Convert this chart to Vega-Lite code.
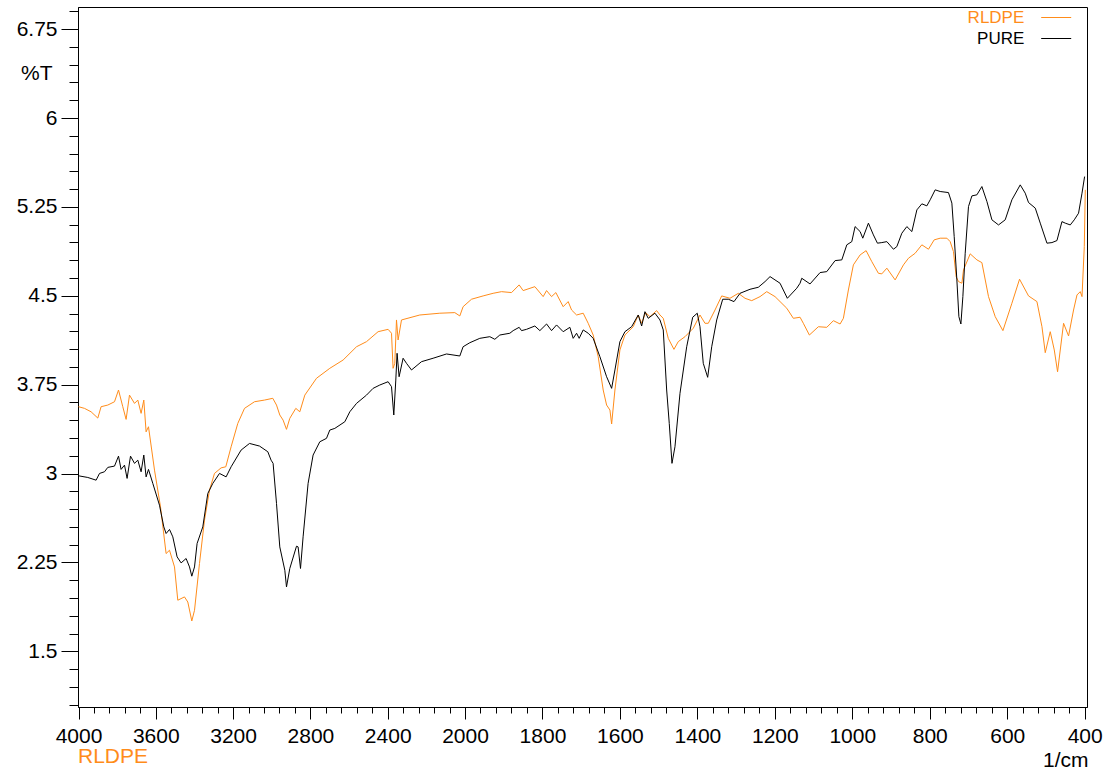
{
  "$schema": "https://vega.github.io/schema/vega-lite/v6.json",
  "width": 1009,
  "height": 700,
  "autosize": "none",
  "padding": {"left": 78, "top": 7, "right": 27, "bottom": 64},
  "background": "white",
  "config": {"font": "Liberation Sans", "view": {"stroke": "black", "strokeWidth": 1}},
  "title": {"text": "RLDPE", "orient": "bottom", "anchor": "start", "frame": "group", "color": "#ff8c1a", "fontSize": 21, "fontWeight": "normal", "offset": -24},
  "datasets": {
    "spectra": [
      {"s":"RLDPE","wn":4000,"t":3.564},{"s":"RLDPE","wn":3969,"t":3.55},{"s":"RLDPE","wn":3934.8,"t":3.521},{"s":"RLDPE","wn":3900.1,"t":3.468},{"s":"RLDPE","wn":3883.1,"t":3.564},{"s":"RLDPE","wn":3848.4,"t":3.578},{"s":"RLDPE","wn":3813.7,"t":3.606},{"s":"RLDPE","wn":3793,"t":3.705},{"s":"RLDPE","wn":3770.8,"t":3.564},{"s":"RLDPE","wn":3753.7,"t":3.457},{"s":"RLDPE","wn":3736.1,"t":3.662},{"s":"RLDPE","wn":3710.2,"t":3.592},{"s":"RLDPE","wn":3693.1,"t":3.62},{"s":"RLDPE","wn":3676.1,"t":3.508},{"s":"RLDPE","wn":3662.1,"t":3.62},{"s":"RLDPE","wn":3650.2,"t":3.352},{"s":"RLDPE","wn":3637.8,"t":3.395},{"s":"RLDPE","wn":3606.7,"t":3.029},{"s":"RLDPE","wn":3575.7,"t":2.719},{"s":"RLDPE","wn":3546.7,"t":2.325},{"s":"RLDPE","wn":3529.1,"t":2.353},{"s":"RLDPE","wn":3503.2,"t":2.212},{"s":"RLDPE","wn":3486.2,"t":1.931},{"s":"RLDPE","wn":3451.5,"t":1.959},{"s":"RLDPE","wn":3434.4,"t":1.916},{"s":"RLDPE","wn":3413.7,"t":1.756},{"s":"RLDPE","wn":3399.7,"t":1.846},{"s":"RLDPE","wn":3373.9,"t":2.241},{"s":"RLDPE","wn":3348,"t":2.607},{"s":"RLDPE","wn":3322.1,"t":2.86},{"s":"RLDPE","wn":3296.3,"t":3.001},{"s":"RLDPE","wn":3262.1,"t":3.048},{"s":"RLDPE","wn":3237.8,"t":3.057},{"s":"RLDPE","wn":3210.3,"t":3.226},{"s":"RLDPE","wn":3175.7,"t":3.423},{"s":"RLDPE","wn":3141,"t":3.55},{"s":"RLDPE","wn":3089.3,"t":3.606},{"s":"RLDPE","wn":3037.5,"t":3.62},{"s":"RLDPE","wn":2994.6,"t":3.635},{"s":"RLDPE","wn":2975.4,"t":3.578},{"s":"RLDPE","wn":2958.4,"t":3.494},{"s":"RLDPE","wn":2941.3,"t":3.451},{"s":"RLDPE","wn":2923.7,"t":3.373},{"s":"RLDPE","wn":2906.6,"t":3.466},{"s":"RLDPE","wn":2875.5,"t":3.55},{"s":"RLDPE","wn":2854.8,"t":3.521},{"s":"RLDPE","wn":2828.9,"t":3.662},{"s":"RLDPE","wn":2768.4,"t":3.804},{"s":"RLDPE","wn":2699.6,"t":3.888},{"s":"RLDPE","wn":2630.8,"t":3.958},{"s":"RLDPE","wn":2561.4,"t":4.07},{"s":"RLDPE","wn":2509.7,"t":4.113},{"s":"RLDPE","wn":2449.7,"t":4.197},{"s":"RLDPE","wn":2397.9,"t":4.217},{"s":"RLDPE","wn":2380.3,"t":4.184},{"s":"RLDPE","wn":2372.1,"t":3.888},{"s":"RLDPE","wn":2363.3,"t":3.93},{"s":"RLDPE","wn":2354.5,"t":4.296},{"s":"RLDPE","wn":2346.2,"t":4.127},{"s":"RLDPE","wn":2328.6,"t":4.296},{"s":"RLDPE","wn":2233.9,"t":4.338},{"s":"RLDPE","wn":2130.4,"t":4.353},{"s":"RLDPE","wn":2052.8,"t":4.358},{"s":"RLDPE","wn":2026.9,"t":4.33},{"s":"RLDPE","wn":2009.8,"t":4.408},{"s":"RLDPE","wn":1983.2,"t":4.471},{"s":"RLDPE","wn":1953.2,"t":4.499},{"s":"RLDPE","wn":1927.4,"t":4.521},{"s":"RLDPE","wn":1905.7,"t":4.535},{"s":"RLDPE","wn":1879.8,"t":4.527},{"s":"RLDPE","wn":1860.2,"t":4.592},{"s":"RLDPE","wn":1849.9,"t":4.544},{"s":"RLDPE","wn":1819.6,"t":4.577},{"s":"RLDPE","wn":1798.2,"t":4.493},{"s":"RLDPE","wn":1789.4,"t":4.544},{"s":"RLDPE","wn":1776.5,"t":4.493},{"s":"RLDPE","wn":1765.4,"t":4.527},{"s":"RLDPE","wn":1746.5,"t":4.408},{"s":"RLDPE","wn":1733.6,"t":4.451},{"s":"RLDPE","wn":1724.8,"t":4.38},{"s":"RLDPE","wn":1711.9,"t":4.338},{"s":"RLDPE","wn":1694.8,"t":4.353},{"s":"RLDPE","wn":1681.9,"t":4.268},{"s":"RLDPE","wn":1669,"t":4.169},{"s":"RLDPE","wn":1656.1,"t":3.986},{"s":"RLDPE","wn":1643.2,"t":3.705},{"s":"RLDPE","wn":1634.4,"t":3.578},{"s":"RLDPE","wn":1625.8,"t":3.536},{"s":"RLDPE","wn":1621.4,"t":3.418},{"s":"RLDPE","wn":1612.9,"t":3.705},{"s":"RLDPE","wn":1600,"t":4.043},{"s":"RLDPE","wn":1587.1,"t":4.169},{"s":"RLDPE","wn":1565.6,"t":4.239},{"s":"RLDPE","wn":1552.7,"t":4.338},{"s":"RLDPE","wn":1543.9,"t":4.268},{"s":"RLDPE","wn":1533.6,"t":4.358},{"s":"RLDPE","wn":1522.5,"t":4.324},{"s":"RLDPE","wn":1505.2,"t":4.375},{"s":"RLDPE","wn":1496.6,"t":4.338},{"s":"RLDPE","wn":1488.1,"t":4.31},{"s":"RLDPE","wn":1475.2,"t":4.141},{"s":"RLDPE","wn":1460.5,"t":4.048},{"s":"RLDPE","wn":1449.4,"t":4.113},{"s":"RLDPE","wn":1432,"t":4.155},{"s":"RLDPE","wn":1410.6,"t":4.226},{"s":"RLDPE","wn":1393.3,"t":4.338},{"s":"RLDPE","wn":1380.4,"t":4.268},{"s":"RLDPE","wn":1371.8,"t":4.268},{"s":"RLDPE","wn":1354.5,"t":4.38},{"s":"RLDPE","wn":1337.2,"t":4.499},{"s":"RLDPE","wn":1315.8,"t":4.479},{"s":"RLDPE","wn":1294.3,"t":4.521},{"s":"RLDPE","wn":1277,"t":4.479},{"s":"RLDPE","wn":1259.7,"t":4.459},{"s":"RLDPE","wn":1238.2,"t":4.493},{"s":"RLDPE","wn":1220.9,"t":4.535},{"s":"RLDPE","wn":1199.5,"t":4.493},{"s":"RLDPE","wn":1169.2,"t":4.395},{"s":"RLDPE","wn":1152.2,"t":4.31},{"s":"RLDPE","wn":1134.9,"t":4.319},{"s":"RLDPE","wn":1126.4,"t":4.268},{"s":"RLDPE","wn":1110.8,"t":4.169},{"s":"RLDPE","wn":1087.6,"t":4.239},{"s":"RLDPE","wn":1065.9,"t":4.234},{"s":"RLDPE","wn":1048.8,"t":4.29},{"s":"RLDPE","wn":1031.5,"t":4.262},{"s":"RLDPE","wn":1023,"t":4.31},{"s":"RLDPE","wn":1010.1,"t":4.549},{"s":"RLDPE","wn":997.2,"t":4.761},{"s":"RLDPE","wn":979.8,"t":4.845},{"s":"RLDPE","wn":964.3,"t":4.881},{"s":"RLDPE","wn":949.6,"t":4.788},{"s":"RLDPE","wn":932.6,"t":4.69},{"s":"RLDPE","wn":923.8,"t":4.685},{"s":"RLDPE","wn":910.8,"t":4.733},{"s":"RLDPE","wn":889.4,"t":4.634},{"s":"RLDPE","wn":867.9,"t":4.761},{"s":"RLDPE","wn":855,"t":4.817},{"s":"RLDPE","wn":837.7,"t":4.859},{"s":"RLDPE","wn":820.4,"t":4.93},{"s":"RLDPE","wn":803.3,"t":4.893},{"s":"RLDPE","wn":788.6,"t":4.972},{"s":"RLDPE","wn":773.1,"t":4.986},{"s":"RLDPE","wn":755.8,"t":4.986},{"s":"RLDPE","wn":747.3,"t":4.957},{"s":"RLDPE","wn":738.8,"t":4.873},{"s":"RLDPE","wn":731.8,"t":4.662},{"s":"RLDPE","wn":725.8,"t":4.62},{"s":"RLDPE","wn":717,"t":4.606},{"s":"RLDPE","wn":712.9,"t":4.718},{"s":"RLDPE","wn":695.6,"t":4.854},{"s":"RLDPE","wn":678.3,"t":4.803},{"s":"RLDPE","wn":665.4,"t":4.78},{"s":"RLDPE","wn":648.3,"t":4.493},{"s":"RLDPE","wn":631,"t":4.324},{"s":"RLDPE","wn":611.1,"t":4.206},{"s":"RLDPE","wn":587.9,"t":4.437},{"s":"RLDPE","wn":568.2,"t":4.64},{"s":"RLDPE","wn":545,"t":4.499},{"s":"RLDPE","wn":523.3,"t":4.451},{"s":"RLDPE","wn":510.3,"t":4.239},{"s":"RLDPE","wn":501.8,"t":4.02},{"s":"RLDPE","wn":488.9,"t":4.197},{"s":"RLDPE","wn":478.5,"t":4.043},{"s":"RLDPE","wn":470,"t":3.859},{"s":"RLDPE","wn":454.5,"t":4.268},{"s":"RLDPE","wn":441.6,"t":4.161},{"s":"RLDPE","wn":428.7,"t":4.38},{"s":"RLDPE","wn":419.9,"t":4.507},{"s":"RLDPE","wn":411.4,"t":4.535},{"s":"RLDPE","wn":406.9,"t":4.493},{"s":"RLDPE","wn":401,"t":4.915},{"s":"RLDPE","wn":398.4,"t":5.394},
      {"s":"PURE","wn":4000,"t":2.981},{"s":"PURE","wn":3951.9,"t":2.967},{"s":"PURE","wn":3908.9,"t":2.944},{"s":"PURE","wn":3891.3,"t":3.001},{"s":"PURE","wn":3865.5,"t":3.015},{"s":"PURE","wn":3848.4,"t":3.052},{"s":"PURE","wn":3813.7,"t":3.063},{"s":"PURE","wn":3793,"t":3.147},{"s":"PURE","wn":3779.6,"t":3.035},{"s":"PURE","wn":3761.9,"t":3.071},{"s":"PURE","wn":3748.5,"t":2.959},{"s":"PURE","wn":3730.9,"t":3.147},{"s":"PURE","wn":3710.2,"t":3.086},{"s":"PURE","wn":3693.1,"t":3.113},{"s":"PURE","wn":3676.1,"t":3.015},{"s":"PURE","wn":3662.1,"t":3.156},{"s":"PURE","wn":3650.2,"t":2.972},{"s":"PURE","wn":3637.8,"t":3.035},{"s":"PURE","wn":3615.5,"t":2.917},{"s":"PURE","wn":3580.9,"t":2.733},{"s":"PURE","wn":3558.6,"t":2.55},{"s":"PURE","wn":3546.7,"t":2.494},{"s":"PURE","wn":3529.1,"t":2.528},{"s":"PURE","wn":3512,"t":2.466},{"s":"PURE","wn":3489.8,"t":2.297},{"s":"PURE","wn":3469.1,"t":2.246},{"s":"PURE","wn":3443.2,"t":2.283},{"s":"PURE","wn":3425.6,"t":2.212},{"s":"PURE","wn":3413.7,"t":2.134},{"s":"PURE","wn":3399.7,"t":2.212},{"s":"PURE","wn":3386.3,"t":2.41},{"s":"PURE","wn":3356.8,"t":2.55},{"s":"PURE","wn":3330.9,"t":2.832},{"s":"PURE","wn":3305,"t":2.917},{"s":"PURE","wn":3270.4,"t":3.001},{"s":"PURE","wn":3236.2,"t":2.972},{"s":"PURE","wn":3210.3,"t":3.057},{"s":"PURE","wn":3158.6,"t":3.198},{"s":"PURE","wn":3115.1,"t":3.254},{"s":"PURE","wn":3063.4,"t":3.232},{"s":"PURE","wn":3020.4,"t":3.184},{"s":"PURE","wn":3003.4,"t":3.113},{"s":"PURE","wn":2993,"t":3.086},{"s":"PURE","wn":2975.4,"t":2.748},{"s":"PURE","wn":2958.4,"t":2.381},{"s":"PURE","wn":2932.4,"t":2.184},{"s":"PURE","wn":2923.7,"t":2.043},{"s":"PURE","wn":2906.6,"t":2.199},{"s":"PURE","wn":2871.9,"t":2.387},{"s":"PURE","wn":2863.6,"t":2.381},{"s":"PURE","wn":2851.2,"t":2.199},{"s":"PURE","wn":2837.8,"t":2.466},{"s":"PURE","wn":2811.9,"t":2.917},{"s":"PURE","wn":2786,"t":3.156},{"s":"PURE","wn":2751.4,"t":3.268},{"s":"PURE","wn":2716.7,"t":3.297},{"s":"PURE","wn":2699.6,"t":3.367},{"s":"PURE","wn":2673.7,"t":3.381},{"s":"PURE","wn":2622,"t":3.437},{"s":"PURE","wn":2596.1,"t":3.521},{"s":"PURE","wn":2561.4,"t":3.592},{"s":"PURE","wn":2509.7,"t":3.662},{"s":"PURE","wn":2475.6,"t":3.719},{"s":"PURE","wn":2440.9,"t":3.747},{"s":"PURE","wn":2397.9,"t":3.775},{"s":"PURE","wn":2380.3,"t":3.733},{"s":"PURE","wn":2368.5,"t":3.494},{"s":"PURE","wn":2358.1,"t":3.789},{"s":"PURE","wn":2351.4,"t":4.015},{"s":"PURE","wn":2341,"t":3.817},{"s":"PURE","wn":2320.3,"t":3.973},{"s":"PURE","wn":2302.7,"t":3.93},{"s":"PURE","wn":2276.8,"t":3.874},{"s":"PURE","wn":2225.1,"t":3.944},{"s":"PURE","wn":2165.1,"t":3.973},{"s":"PURE","wn":2095.7,"t":4.009},{"s":"PURE","wn":2026.9,"t":3.992},{"s":"PURE","wn":2009.8,"t":4.07},{"s":"PURE","wn":1987.6,"t":4.104},{"s":"PURE","wn":1961.8,"t":4.141},{"s":"PURE","wn":1935.9,"t":4.155},{"s":"PURE","wn":1923,"t":4.133},{"s":"PURE","wn":1910.1,"t":4.169},{"s":"PURE","wn":1884.2,"t":4.184},{"s":"PURE","wn":1875.7,"t":4.206},{"s":"PURE","wn":1860.2,"t":4.234},{"s":"PURE","wn":1854,"t":4.206},{"s":"PURE","wn":1841.1,"t":4.217},{"s":"PURE","wn":1819.6,"t":4.245},{"s":"PURE","wn":1806.7,"t":4.206},{"s":"PURE","wn":1789.4,"t":4.262},{"s":"PURE","wn":1776.5,"t":4.206},{"s":"PURE","wn":1763.6,"t":4.254},{"s":"PURE","wn":1746.5,"t":4.197},{"s":"PURE","wn":1729.2,"t":4.234},{"s":"PURE","wn":1720.7,"t":4.141},{"s":"PURE","wn":1711.9,"t":4.184},{"s":"PURE","wn":1705.2,"t":4.141},{"s":"PURE","wn":1694.8,"t":4.212},{"s":"PURE","wn":1681.9,"t":4.184},{"s":"PURE","wn":1669,"t":4.141},{"s":"PURE","wn":1651.7,"t":3.986},{"s":"PURE","wn":1634.4,"t":3.817},{"s":"PURE","wn":1621.4,"t":3.719},{"s":"PURE","wn":1612.9,"t":3.874},{"s":"PURE","wn":1600,"t":4.113},{"s":"PURE","wn":1587.1,"t":4.197},{"s":"PURE","wn":1569.8,"t":4.239},{"s":"PURE","wn":1552.7,"t":4.338},{"s":"PURE","wn":1543.9,"t":4.245},{"s":"PURE","wn":1535.4,"t":4.366},{"s":"PURE","wn":1526.9,"t":4.31},{"s":"PURE","wn":1509.6,"t":4.353},{"s":"PURE","wn":1496.6,"t":4.296},{"s":"PURE","wn":1488.1,"t":4.212},{"s":"PURE","wn":1479.3,"t":3.705},{"s":"PURE","wn":1472.6,"t":3.423},{"s":"PURE","wn":1465.6,"t":3.086},{"s":"PURE","wn":1457.9,"t":3.226},{"s":"PURE","wn":1444.9,"t":3.677},{"s":"PURE","wn":1427.6,"t":4.07},{"s":"PURE","wn":1412.1,"t":4.319},{"s":"PURE","wn":1400.3,"t":4.353},{"s":"PURE","wn":1393.3,"t":4.239},{"s":"PURE","wn":1384.8,"t":3.93},{"s":"PURE","wn":1373.4,"t":3.812},{"s":"PURE","wn":1363,"t":4.07},{"s":"PURE","wn":1350.1,"t":4.296},{"s":"PURE","wn":1334.6,"t":4.471},{"s":"PURE","wn":1320.2,"t":4.471},{"s":"PURE","wn":1305.4,"t":4.451},{"s":"PURE","wn":1289.9,"t":4.521},{"s":"PURE","wn":1264.1,"t":4.555},{"s":"PURE","wn":1242.6,"t":4.572},{"s":"PURE","wn":1225.3,"t":4.62},{"s":"PURE","wn":1212.4,"t":4.662},{"s":"PURE","wn":1186.6,"t":4.606},{"s":"PURE","wn":1167.7,"t":4.479},{"s":"PURE","wn":1143.4,"t":4.564},{"s":"PURE","wn":1134.9,"t":4.606},{"s":"PURE","wn":1130.5,"t":4.648},{"s":"PURE","wn":1109.1,"t":4.6},{"s":"PURE","wn":1083.2,"t":4.696},{"s":"PURE","wn":1065.9,"t":4.704},{"s":"PURE","wn":1044.4,"t":4.797},{"s":"PURE","wn":1027.1,"t":4.803},{"s":"PURE","wn":1014.2,"t":4.93},{"s":"PURE","wn":1001.3,"t":4.957},{"s":"PURE","wn":992.8,"t":5.084},{"s":"PURE","wn":979.8,"t":5.042},{"s":"PURE","wn":972.9,"t":4.986},{"s":"PURE","wn":958.4,"t":5.113},{"s":"PURE","wn":945.5,"t":5.014},{"s":"PURE","wn":935.1,"t":4.944},{"s":"PURE","wn":923.8,"t":4.949},{"s":"PURE","wn":910.8,"t":4.957},{"s":"PURE","wn":893.8,"t":4.893},{"s":"PURE","wn":885,"t":4.915},{"s":"PURE","wn":872.1,"t":5.028},{"s":"PURE","wn":859.2,"t":5.084},{"s":"PURE","wn":846.2,"t":5.042},{"s":"PURE","wn":833.3,"t":5.225},{"s":"PURE","wn":820.4,"t":5.276},{"s":"PURE","wn":807.5,"t":5.259},{"s":"PURE","wn":798.9,"t":5.31},{"s":"PURE","wn":786,"t":5.394},{"s":"PURE","wn":773.1,"t":5.38},{"s":"PURE","wn":751.7,"t":5.371},{"s":"PURE","wn":742.9,"t":5.282},{"s":"PURE","wn":736.9,"t":5.0},{"s":"PURE","wn":730,"t":4.634},{"s":"PURE","wn":724.8,"t":4.324},{"s":"PURE","wn":719.6,"t":4.262},{"s":"PURE","wn":714.5,"t":4.493},{"s":"PURE","wn":708.5,"t":4.859},{"s":"PURE","wn":700,"t":5.253},{"s":"PURE","wn":691.2,"t":5.343},{"s":"PURE","wn":678.3,"t":5.352},{"s":"PURE","wn":665.4,"t":5.422},{"s":"PURE","wn":652.4,"t":5.295},{"s":"PURE","wn":639.5,"t":5.141},{"s":"PURE","wn":622.5,"t":5.098},{"s":"PURE","wn":605.2,"t":5.141},{"s":"PURE","wn":587.9,"t":5.31},{"s":"PURE","wn":566.4,"t":5.436},{"s":"PURE","wn":553.5,"t":5.366},{"s":"PURE","wn":545,"t":5.287},{"s":"PURE","wn":527.6,"t":5.24},{"s":"PURE","wn":514.7,"t":5.113},{"s":"PURE","wn":497.4,"t":4.944},{"s":"PURE","wn":484.5,"t":4.949},{"s":"PURE","wn":471.6,"t":4.966},{"s":"PURE","wn":458.7,"t":5.126},{"s":"PURE","wn":450.1,"t":5.113},{"s":"PURE","wn":437.2,"t":5.098},{"s":"PURE","wn":426.9,"t":5.141},{"s":"PURE","wn":415.8,"t":5.197},{"s":"PURE","wn":406.9,"t":5.366},{"s":"PURE","wn":400.2,"t":5.506}
    ]
  },
  "data": {"name": "spectra"},
  "mark": {"type": "line", "strokeWidth": 1, "clip": true},
  "encoding": {
    "x": {
      "field": "wn", "type": "quantitative",
      "scale": {"domain": [4000, 2000, 394], "range": [0.5, 387, 1009], "nice": false, "zero": false},
      "axis": {
        "title": "1/cm", "titleX": 1010, "titleY": 59, "titleAlign": "right", "titleBaseline": "alphabetic", "titleAnchor": "end",
        "titleFontSize": 21, "titleFontWeight": "normal", "titleColor": "black", "titleFont": "Liberation Sans",
        "values": [4000,3920,3840,3760,3680,3600,3520,3440,3360,3280,3200,3120,3040,2960,2880,2800,2720,2640,2560,2480,2400,2320,2240,2160,2080,2000,1960,1920,1880,1840,1800,1760,1720,1680,1640,1600,1560,1520,1480,1440,1400,1360,1320,1280,1240,1200,1160,1120,1080,1040,1000,960,920,880,840,800,760,720,680,640,600,560,520,480,440,400],
        "format": "d",
        "labelExpr": "indexof([4000,3600,3200,2800,2400,2000,1800,1600,1400,1200,1000,800,600,400], datum.value) >= 0 ? datum.label : ''",
        "labelFontSize": 21, "labelColor": "black", "labelFont": "Liberation Sans", "labelPadding": 6, "labelFlush": false, "labelOverlap": false, "labelBound": false,
        "tickSize": {"condition": {"test": "indexof([4000,3600,3200,2800,2400,2000,1800,1600,1400,1200,1000,800,600,400], datum.value) >= 0", "value": 12}, "value": 6},
        "tickColor": "black", "tickWidth": 1, "domainColor": "black", "domainWidth": 1, "grid": false
      }
    },
    "y": {
      "field": "t", "type": "quantitative",
      "scale": {"domain": [1.03, 6.937], "nice": false, "zero": false},
      "axis": {
        "title": null,
        "values": [1.05,1.2,1.35,1.5,1.65,1.8,1.95,2.1,2.25,2.4,2.55,2.7,2.85,3,3.15,3.3,3.45,3.6,3.75,3.9,4.05,4.2,4.35,4.5,4.65,4.8,4.95,5.1,5.25,5.4,5.55,5.7,5.85,6,6.15,6.3,6.45,6.6,6.75,6.9,6.375],
        "labelExpr": "datum.value == 6.375 ? '%T' : (indexof([1.5,2.25,3,3.75,4.5,5.25,6,6.75], datum.value) >= 0 ? '' + datum.value : '')",
        "labelFontSize": 21, "labelColor": "black", "labelFont": "Liberation Sans", "labelFlush": false, "labelOverlap": false, "labelBound": false,
        "labelPadding": {"condition": {"test": "datum.value == 6.375", "value": 9}, "value": 4},
        "tickSize": {"condition": {"test": "indexof([1.5,2.25,3,3.75,4.5,5.25,6,6.75,6.375], datum.value) >= 0", "value": 17}, "value": 9},
        "tickOpacity": {"condition": {"test": "datum.value == 6.375", "value": 0}, "value": 1},
        "tickColor": "black", "tickWidth": 1, "domainColor": "black", "domainWidth": 1, "grid": false
      }
    },
    "color": {
      "field": "s", "type": "nominal",
      "scale": {"domain": ["RLDPE", "PURE"], "range": ["#ff8c1a", "#000000"]},
      "legend": {
        "title": null, "orient": "none", "legendX": 969.7, "legendY": 2, "padding": 0,
        "symbolType": "M-3,0H3", "symbolSize": 100, "symbolStrokeWidth": 1,
        "labelFontSize": 17, "labelFont": "Liberation Sans", "labelAlign": "right", "labelOffset": -40.4, "rowPadding": 3,
        "labelColor": {"expr": "datum.value == 'RLDPE' ? '#ff8c1a' : '#000000'"}
      }
    }
  }
}
